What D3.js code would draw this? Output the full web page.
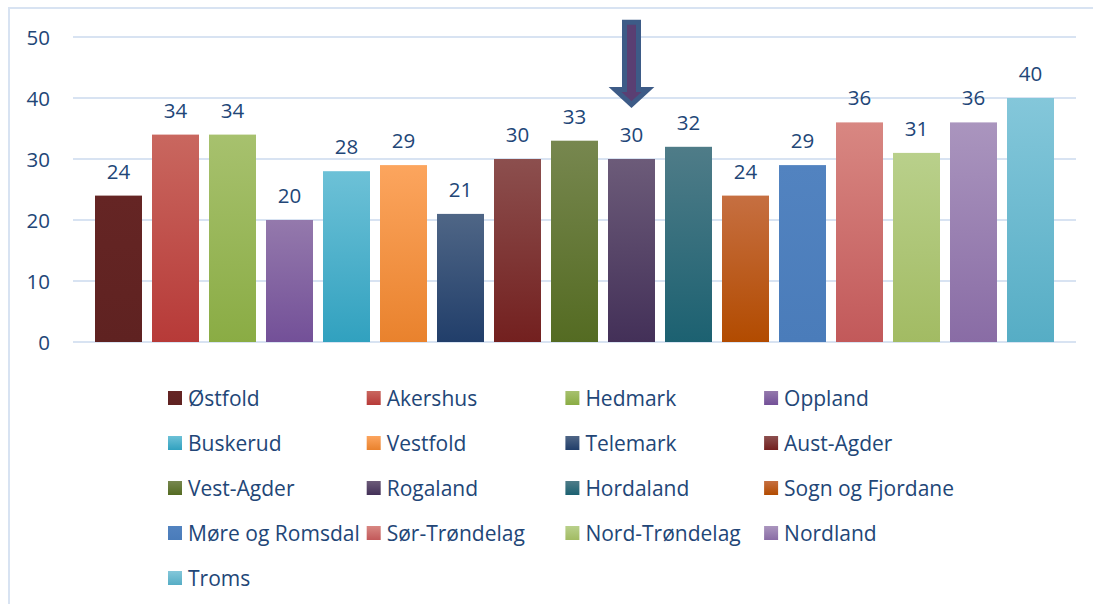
<!DOCTYPE html>
<html>
<head>
<meta charset="utf-8">
<script src="https://cdn.jsdelivr.net/npm/d3@7"></script>
<style>
  html, body { margin: 0; padding: 0; background: #fff; }
  svg { display: block; }
  text { font-family: "Open Sans", "Noto Sans", sans-serif; }
</style>
</head>
<body>
<script>
// ---- data ----
const categories = ["Østfold","Akershus","Hedmark","Oppland","Buskerud","Vestfold","Telemark","Aust-Agder","Vest-Agder","Rogaland","Hordaland","Sogn og Fjordane","Møre og Romsdal","Sør-Trøndelag","Nord-Trøndelag","Nordland","Troms"];
const values = [24,34,34,20,28,29,21,30,33,30,32,24,29,36,31,36,40];
const yTicks = [0,10,20,30,40,50];
const highlighted = "Rogaland";
const colorsTop = ["#652524","#c9675f","#a7c16e","#9479ac","#6dc1d7","#fca55e","#4f6686","#8c4f4e","#77874f","#6c5b79","#4f7c88","#c66f41","#5283c0","#d88782","#b9d08b","#aa95be","#84c7da"];
const colorsBottom = ["#5f2221","#b73a38","#8aac44","#735098","#31a1bf","#e9822d","#213e6a","#73201f","#546b22","#433058","#1c6171","#b24b00","#4a7cba","#c2595a","#a2bb63","#896ca5","#56adc5"];

const W = 1093, H = 604;
const textColor = "#224677";
const gridColor = "#d8e3f2";

const svg = d3.select("body").append("svg").attr("width", W).attr("height", H);
svg.append("rect").attr("width", W).attr("height", H).attr("fill", "#fff");

const defs = svg.append("defs");
categories.forEach((c, i) => {
  const g = defs.append("linearGradient").attr("id", "g" + i)
    .attr("x1", 0).attr("y1", 0).attr("x2", 0).attr("y2", 1);
  g.append("stop").attr("offset", "0%").attr("stop-color", colorsTop[i]);
  g.append("stop").attr("offset", "100%").attr("stop-color", colorsBottom[i]);
});

// frame
svg.append("line").attr("x1", 9).attr("x2", 9).attr("y1", 7).attr("y2", H)
  .attr("stroke", gridColor).attr("stroke-width", 2);
svg.append("line").attr("x1", 8).attr("x2", W).attr("y1", 8).attr("y2", 8)
  .attr("stroke", gridColor).attr("stroke-width", 2);

const plotL = 73, plotR = 1076;
const x = d3.scaleBand().domain(categories).range([plotL, plotR])
  .paddingInner(10 / 57).paddingOuter(0.386);
const y = d3.scaleLinear().domain([0, 50]).range([342, 37]);

// gridlines
svg.append("g").selectAll("line").data(yTicks).join("line")
  .attr("x1", plotL).attr("x2", plotR)
  .attr("y1", d => y(d)).attr("y2", d => y(d))
  .attr("stroke", gridColor).attr("stroke-width", 2);

// y axis labels
const yAxis = d3.axisLeft(y).tickValues(yTicks).tickSize(0).tickPadding(0).tickFormat(d3.format("d"));
const ya = svg.append("g").attr("transform", "translate(50,0)").call(yAxis);
ya.select(".domain").remove();
ya.selectAll("text").attr("fill", textColor).style("font-size", "20.5px")
  .style("font-family", '"Open Sans", sans-serif').attr("dy", "0.36em");

// bars
svg.append("g").selectAll("rect").data(values).join("rect")
  .attr("x", (d, i) => x(categories[i]))
  .attr("y", d => y(d))
  .attr("width", x.bandwidth())
  .attr("height", d => y(0) - y(d))
  .attr("fill", (d, i) => `url(#g${i})`);

// value labels
svg.append("g").selectAll("text").data(values).join("text")
  .attr("x", (d, i) => x(categories[i]) + x.bandwidth() / 2)
  .attr("y", d => y(d) - 17)
  .attr("text-anchor", "middle")
  .attr("fill", textColor).style("font-size", "20.5px")
  .text(d => d);

// arrow annotation above highlighted bar
const cx = x(highlighted) + x.bandwidth() / 2;
const aTop = y(52.4), aHeadBase = y(41.4), aTip = y(38.9);
const shaftHalf = 7, headHalf = 16.5;
const arrowPath = d3.path();
arrowPath.moveTo(cx - shaftHalf, aTop);
arrowPath.lineTo(cx + shaftHalf, aTop);
arrowPath.lineTo(cx + shaftHalf, aHeadBase);
arrowPath.lineTo(cx + headHalf, aHeadBase);
arrowPath.lineTo(cx, aTip);
arrowPath.lineTo(cx - headHalf, aHeadBase);
arrowPath.lineTo(cx - shaftHalf, aHeadBase);
arrowPath.closePath();
svg.append("path").attr("d", arrowPath.toString())
  .attr("fill", "#5a3f73").attr("stroke", "#3d5b87").attr("stroke-width", 5)
  .attr("stroke-linejoin", "miter");

// legend
const legend = svg.append("g");
const colStep = 198.7, rowStep = 45, legX = 168, legY = 398;
categories.forEach((c, i) => {
  const col = i % 4, row = Math.floor(i / 4);
  const gx = legX + col * colStep, gy = legY + row * rowStep;
  legend.append("rect").attr("x", gx).attr("y", gy - 7).attr("width", 14).attr("height", 14)
    .attr("fill", `url(#g${i})`);
  legend.append("text").attr("x", gx + 20).attr("y", gy).attr("dy", "0.36em")
    .attr("fill", textColor).style("font-size", "21px").text(c);
});
</script>
</body>
</html>
